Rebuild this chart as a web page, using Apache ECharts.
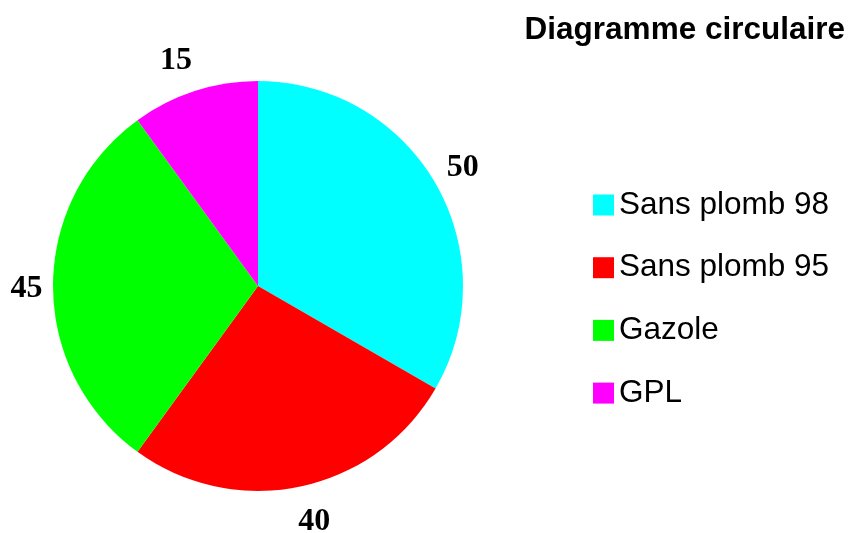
<!DOCTYPE html>
<html>
<head>
<meta charset="utf-8">
<script src="https://cdn.jsdelivr.net/npm/echarts@6/dist/echarts.min.js"></script>
<style>
  html, body { margin: 0; padding: 0; background: #fff; }
  #chart { width: 850px; height: 533px; }
</style>
</head>
<body>
<div id="chart"></div>
<script>
// données du diagramme
var categories = ['Sans plomb 98', 'Sans plomb 95', 'Gazole', 'GPL']
var values = [50, 40, 45, 15]
var colors = ['#00ffff', '#ff0000', '#00ff00', '#ff00ff']

// petits décalages des étiquettes (mise en page seulement)
var labelNudge = [[0, 0], [7, 4], [5, 3], [-9, 0]]

var pieData = categories.map(function (name, i) {
  return { name: name, value: values[i], itemStyle: { color: colors[i] } }
})

var chart = echarts.init(document.getElementById('chart'))
var option = {
  animation: false,
  title: {
    text: 'Diagramme circulaire',
    right: 0,
    top: 9,
    textStyle: {
      fontFamily: 'Liberation Sans',
      fontWeight: 'bold',
      fontSize: 31.5,
      color: '#000'
    }
  },
  legend: {
    orient: 'vertical',
    left: 588,
    top: 184,
    itemWidth: 21,
    itemHeight: 21,
    itemGap: 30.7,
    itemTextGap: 12,
    icon: 'rect',
    data: categories,
    textStyle: {
      fontFamily: 'Liberation Sans',
      fontSize: 31.5,
      lineHeight: 31,
      color: '#000'
    }
  },
  series: [
    // le camembert
    {
      type: 'pie',
      center: [258, 286],
      radius: [0, 205],
      startAngle: 90,
      clockwise: true,
      silent: true,
      data: pieData,
      label: { show: false },
      labelLine: { show: false },
      itemStyle: { borderWidth: 0 }
    },
    // anneau invisible pour placer les valeurs
    {
      type: 'pie',
      center: [258, 286],
      radius: [205, 262],
      startAngle: 90,
      clockwise: true,
      silent: true,
      data: pieData.map(function (d, i) {
        return {
          name: d.name,
          value: d.value,
          itemStyle: { color: 'rgba(0,0,0,0)' },
          label: { offset: labelNudge[i] }
        }
      }),
      label: {
        show: true,
        position: 'inside',
        formatter: '{c}',
        fontFamily: 'Liberation Serif',
        fontWeight: 'bold',
        fontSize: 32,
        color: '#000'
      },
      labelLine: { show: false }
    }
  ]
}
chart.setOption(option)
</script>
</body>
</html>
